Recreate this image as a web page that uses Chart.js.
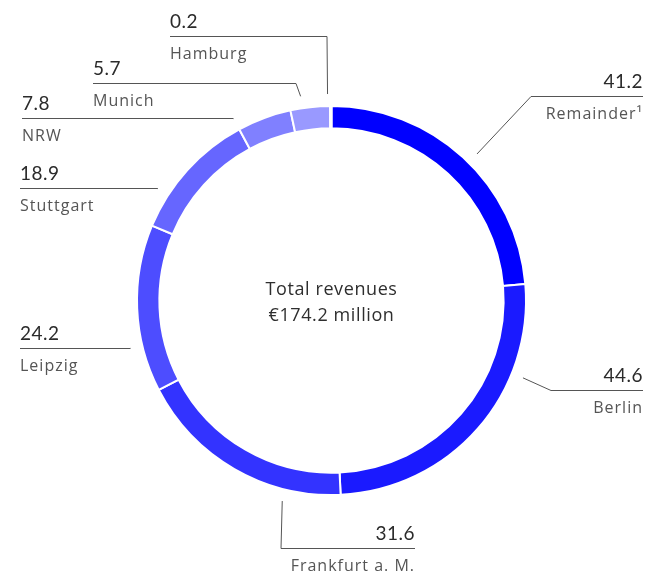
<!DOCTYPE html>
<html>
<head>
<meta charset="utf-8">
<script src="https://cdn.jsdelivr.net/npm/chart.js@4.4.1/dist/chart.umd.min.js"></script>
<style>
  html, body { margin: 0; padding: 0; background: #fff; }
  #wrap { width: 647px; height: 574px; position: relative; }
</style>
</head>
<body>
<div id="wrap"><canvas id="revenueChart"></canvas></div>
<script>
const categories = ['Remainder¹', 'Berlin', 'Frankfurt a. M.', 'Leipzig', 'Stuttgart', 'NRW', 'Munich', 'Hamburg'];
const revenues = [41.2, 44.6, 31.6, 24.2, 18.9, 7.8, 5.7, 0.2];
const colors = ['#0000ff', '#1a1aff', '#3333ff', '#4d4dff', '#6666ff', '#8080ff', '#9999ff', '#b3b3ff'];
const centerLines = ['Total revenues', '€174.2 million'];

// where each label sits: leader angle (deg from top), horizontal rule, text side
const labelLayout = [
    { angle: 44.8, x1: 531, x2: 643, y: 96, align: 'right', join: 'left' },
    { angle: 112, x1: 551, x2: 643, y: 390, align: 'right', join: 'left' },
    { angle: 193.8, x1: 281, x2: 415, y: 548, align: 'right', join: 'left' },
    { angle: 256.6, x1: 20, x2: 130, y: 348, align: 'left', join: 'right' },
    { angle: 302.8, x1: 20, x2: 157, y: 188, align: 'left', join: 'right' },
    { angle: 331.7, x1: 22, x2: 233, y: 118, align: 'left', join: 'right' },
    { angle: 351.4, x1: 93, x2: 296, y: 83, align: 'left', join: 'right' },
    { angle: 358.9, x1: 170, x2: 327, y: 36, align: 'left', join: 'right' }
];

const TEXT_FONT = '"Open Sans", sans-serif';
const NUM_FONT = 'Lato, sans-serif';

const calloutPlugin = {
    id: 'callouts',
    afterDraw(chart) {
        const ctx = chart.ctx;
        const arc = chart.getDatasetMeta(0).data[0];
        const cx = arc.x, cy = arc.y, r = arc.outerRadius + 12;

        ctx.save();
        // centre text
        ctx.fillStyle = '#2e2e2e';
        ctx.font = '18px ' + TEXT_FONT;
        ctx.letterSpacing = '0.6px';
        ctx.textAlign = 'center';
        ctx.textBaseline = 'alphabetic';
        ctx.fillText(centerLines[0], cx, cy - 6);
        ctx.fillText(centerLines[1], cx, cy + 20);

        labelLayout.forEach(function(l, i) {
            const a = l.angle * Math.PI / 180;
            const ax = cx + r * Math.sin(a);
            const ay = cy - r * Math.cos(a);
            const jx = l.join === 'left' ? l.x1 : l.x2;

            ctx.strokeStyle = '#555';
            ctx.lineWidth = 1;
            ctx.beginPath();
            ctx.moveTo(ax, ay);
            ctx.lineTo(jx, l.y + 0.5);
            ctx.moveTo(l.x1, l.y + 0.5);
            ctx.lineTo(l.x2, l.y + 0.5);
            ctx.stroke();

            const tx = l.align === 'left' ? l.x1 : l.x2;
            ctx.textAlign = l.align;
            ctx.fillStyle = '#2b2b2b';
            ctx.letterSpacing = '0.5px';
            ctx.font = '19px ' + NUM_FONT;
            ctx.fillText(revenues[i].toFixed(1), tx, l.y - 8);
            ctx.fillStyle = '#555';
            ctx.letterSpacing = '1px';
            ctx.font = '16px ' + TEXT_FONT;
            ctx.fillText(categories[i], tx, l.y + 23);
        });
        ctx.restore();
    }
};

const config = {
    type: 'doughnut',
    data: {
        labels: categories,
        datasets: [{
            data: revenues,
            backgroundColor: colors,
            borderColor: '#ffffff',
            borderWidth: 2
        }]
    },
    options: {
        responsive: true,
        maintainAspectRatio: false,
        animation: false,
        cutout: '88.5%',
        layout: {
            padding: { top: 105, bottom: 78, left: 136, right: 120 }
        },
        plugins: {
            legend: { display: false },
            tooltip: { enabled: false }
        }
    },
    plugins: [calloutPlugin]
};

new Chart(document.getElementById('revenueChart'), config);
</script>
</body>
</html>
